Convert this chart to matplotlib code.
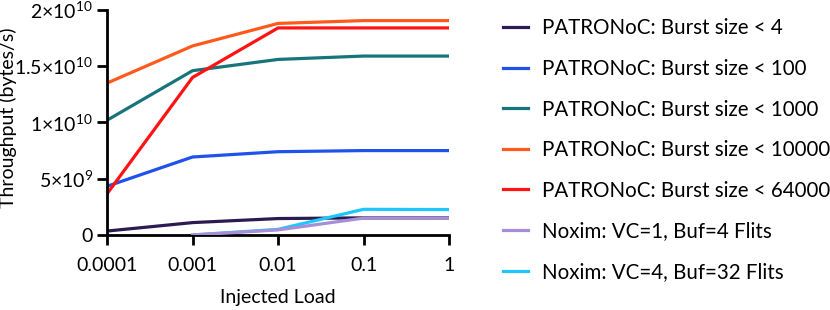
import matplotlib
matplotlib.use('Agg')
import matplotlib.pyplot as plt

plt.rcParams['font.family'] = ['Lato', 'DejaVu Sans']
plt.rcParams['mathtext.fontset'] = 'custom'
plt.rcParams['mathtext.rm'] = 'Lato'
plt.rcParams['mathtext.it'] = 'Lato'

load = [0.0001, 0.001, 0.01, 0.1, 1]
noxim_load = [0.001, 0.01, 0.1, 1]

burst4 = [0.35e9, 1.1e9, 1.46e9, 1.52e9, 1.52e9]
burst100 = [4.33e9, 6.93e9, 7.4e9, 7.5e9, 7.5e9]
burst1000 = [10.2e9, 14.6e9, 15.6e9, 15.9e9, 15.9e9]
burst10000 = [13.5e9, 16.8e9, 18.8e9, 19.05e9, 19.05e9]
burst64000 = [3.66e9, 14.0e9, 18.4e9, 18.4e9, 18.4e9]
noxim_vc1 = [0.0, 0.45e9, 1.5e9, 1.5e9]
noxim_vc4 = [0.0, 0.5e9, 2.28e9, 2.26e9]

yticks = [0, 5e9, 1e10, 1.5e10, 2e10]
ytick_labels = ['0', r'$5{\times}10^{9}$', r'$1{\times}10^{10}$',
                r'$1.5{\times}10^{10}$', r'$2{\times}10^{10}$']
xtick_labels = ['0.0001', '0.001', '0.01', '0.1', '1']

fig = plt.figure(figsize=(8.3, 3.1), dpi=100)
ax = fig.add_axes([0.129, 0.242, 0.412, 0.726])

lw = 2.3
ax.plot(load, burst4, color='#2b1b52', lw=lw, label='PATRONoC: Burst size < 4')
ax.plot(load, burst100, color='#1f52ea', lw=lw, label='PATRONoC: Burst size < 100')
ax.plot(load, burst1000, color='#17747a', lw=lw, label='PATRONoC: Burst size < 1000')
ax.plot(load, burst10000, color='#ff5a1c', lw=lw, label='PATRONoC: Burst size < 10000')
ax.plot(load, burst64000, color='#ff1212', lw=lw, label='PATRONoC: Burst size < 64000')
ax.plot(noxim_load, noxim_vc1, color='#a68fd8', lw=lw, label='Noxim: VC=1, Buf=4 Flits', zorder=3)
ax.plot(noxim_load, noxim_vc4, color='#1ec6ff', lw=lw, label='Noxim: VC=4, Buf=32 Flits', zorder=2)

ax.set_xscale('log')
ax.set_xlim(0.0001, 1)
ax.set_ylim(0, 2e10)
ax.set_xticks(load)
ax.set_xticklabels(xtick_labels)
ax.minorticks_off()
ax.set_yticks(yticks)
ax.set_yticklabels(ytick_labels)

for side in ['top', 'right']:
    ax.spines[side].set_visible(False)
for side in ['left', 'bottom']:
    ax.spines[side].set_linewidth(2)
ax.tick_params(width=2, length=7, labelsize=14)
ax.tick_params(axis='x', pad=9)
ax.tick_params(axis='y', pad=3)
ax.set_xlabel('Injected Load', fontsize=14)
ax.set_ylabel('Throughput (bytes/s)', fontsize=14)
ax.xaxis.set_label_coords(0.5, -0.24)
ax.yaxis.set_label_coords(-0.263, 0.52)

ax.legend(loc='upper left', bbox_to_anchor=(0.589, 0.987), bbox_transform=fig.transFigure,
          frameon=False, fontsize=14.8, handlelength=1.22, handletextpad=0.68,
          labelspacing=1.0, borderaxespad=0.3)

fig.savefig('out.png', dpi=100)
